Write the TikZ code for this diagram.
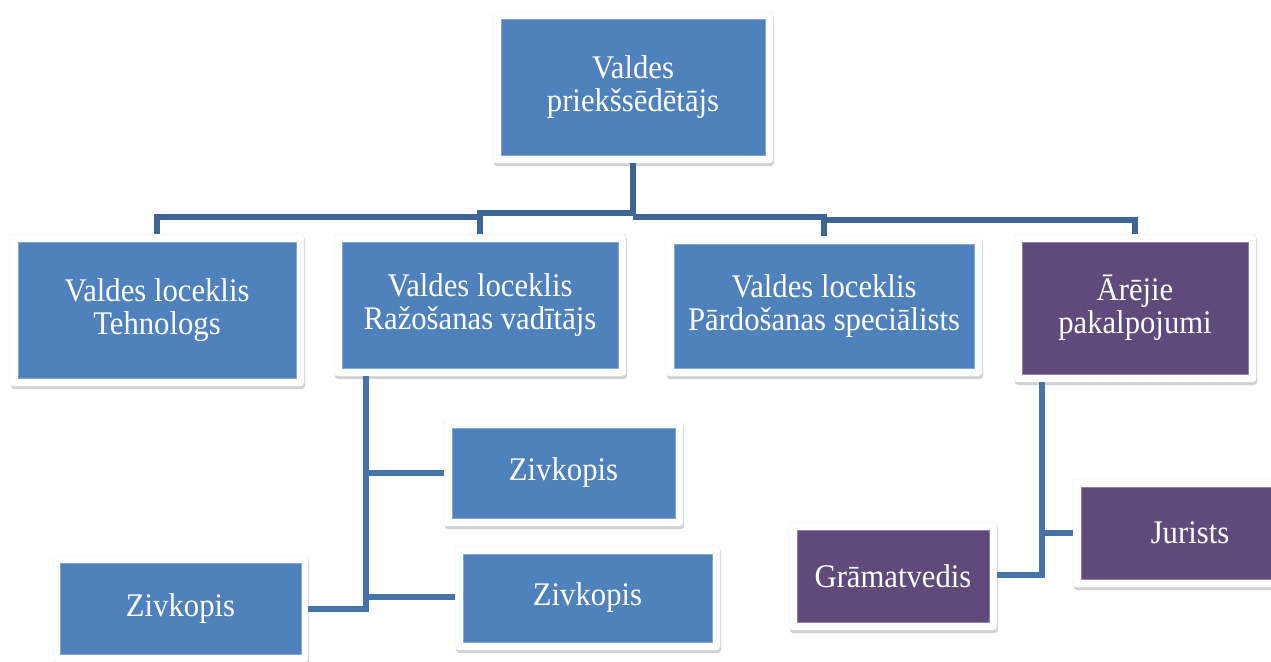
\documentclass[tikz,border=0pt]{standalone}
\usepackage{fontspec}
\setmainfont[FakeStretch=0.93]{Liberation Serif}
\usetikzlibrary{shadows}
\definecolor{boxblue}{HTML}{4F81BD}
\definecolor{boxpurple}{HTML}{604A7B}
\definecolor{linetop}{HTML}{3E6595}
\definecolor{linelow}{HTML}{4673AA}
\tikzset{
  frame/.style={fill=white, draw=black!8, line width=0.4pt, rounded corners=3pt, inner sep=0pt,
    drop shadow={shadow xshift=1pt, shadow yshift=-3pt, opacity=0.3, fill=black!60}},
  bluebox/.style={fill=boxblue, draw=boxblue!70!white, line width=0.6pt, inner sep=0pt, text=white, align=center,
    font=\fontsize{33}{33}\selectfont},
  purplebox/.style={bluebox, fill=boxpurple, draw=boxpurple!70!white},
  conn/.style={draw=linetop, line width=5.5pt, line join=miter},
  connlow/.style={draw=linelow, line width=5.5pt, line join=miter},
}
\begin{document}
\begin{tikzpicture}[x=1pt, y=-1pt]
\useasboundingbox (0,0) rectangle (1271,661);
% frames
\node[frame, minimum width=280pt, minimum height=151pt] (topF) at (633,87.5) {};
\node[frame, minimum width=294pt, minimum height=152pt] (tehF) at (157,310) {};
\node[frame, minimum width=292pt, minimum height=142pt] (razF) at (480,305) {};
\node[frame, minimum width=316pt, minimum height=140pt] (parF) at (824,306) {};
\node[frame, minimum width=242pt, minimum height=148pt] (arF) at (1135,308) {};
\node[frame, minimum width=239pt, minimum height=106pt] (z1F) at (563.5,473) {};
\node[frame, minimum width=265pt, minimum height=104pt] (z3F) at (587.5,598) {};
\node[frame, minimum width=255pt, minimum height=106pt] (z2F) at (180.5,609) {};
\node[frame, minimum width=208pt, minimum height=108pt] (grF) at (893,576) {};
\node[frame, minimum width=234pt, minimum height=108pt] (juF) at (1190,533) {};
% inner boxes
\node[bluebox, minimum width=264pt, minimum height=136pt] (top) at (633,87.5) {Valdes\\priekšsēdētājs};
\node[bluebox, minimum width=278pt, minimum height=136pt] (teh) at (157,310) {Valdes loceklis\\Tehnologs};
\node[bluebox, minimum width=276pt, minimum height=126pt] (raz) at (480,305) {Valdes loceklis\\Ražošanas vadītājs};
\node[bluebox, minimum width=300pt, minimum height=124pt] (par) at (824,306) {Valdes loceklis\\Pārdošanas speciālists};
\node[purplebox, minimum width=226pt, minimum height=132pt] (ar) at (1135,308) {Ārējie\\pakalpojumi};
\node[bluebox, minimum width=223pt, minimum height=90pt] (z1) at (563.5,473) {Zivkopis};
\node[bluebox, minimum width=249pt, minimum height=88pt] (z3) at (587.5,598) {Zivkopis};
\node[bluebox, minimum width=241pt, minimum height=91pt] (z2) at (180.5,608.5) {Zivkopis};
\node[purplebox, minimum width=192pt, minimum height=92pt] (gr) at (893,576) {Grāmatvedis};
\node[purplebox, minimum width=218pt, minimum height=92pt] (ju) at (1190,533) {Jurists};
% top connectors
\coordinate (hub) at (633,215);
\draw[conn] (topF.south) -- (hub);
\draw[conn] (tehF.north) -- (tehF.north |- 0,217) -- (razF.north |- 0,217);
\draw[conn] (razF.north) -- (razF.north |- 0,213) -- (topF.south |- 0,213);
\draw[conn] (parF.north) -- (parF.north |- 0,217) -- (topF.south |- 0,217);
\draw[conn] (arF.north) -- (arF.north |- 0,220) -- (parF.north |- 0,220);
% production branch
\coordinate (rv) at (366,376);
\draw[connlow] (rv) -- (366,609) -- (z2F.east |- 0,609);
\draw[connlow] (366,473) -- (z1F.west);
\draw[connlow] (366,597) -- (z3F.west |- 0,597);
% external services branch
\coordinate (av) at (1042,382);
\draw[connlow] (av) -- (1042,575) -- (grF.east |- 0,575);
\draw[connlow] (1042,533) -- (juF.west);
\end{tikzpicture}
\end{document}
